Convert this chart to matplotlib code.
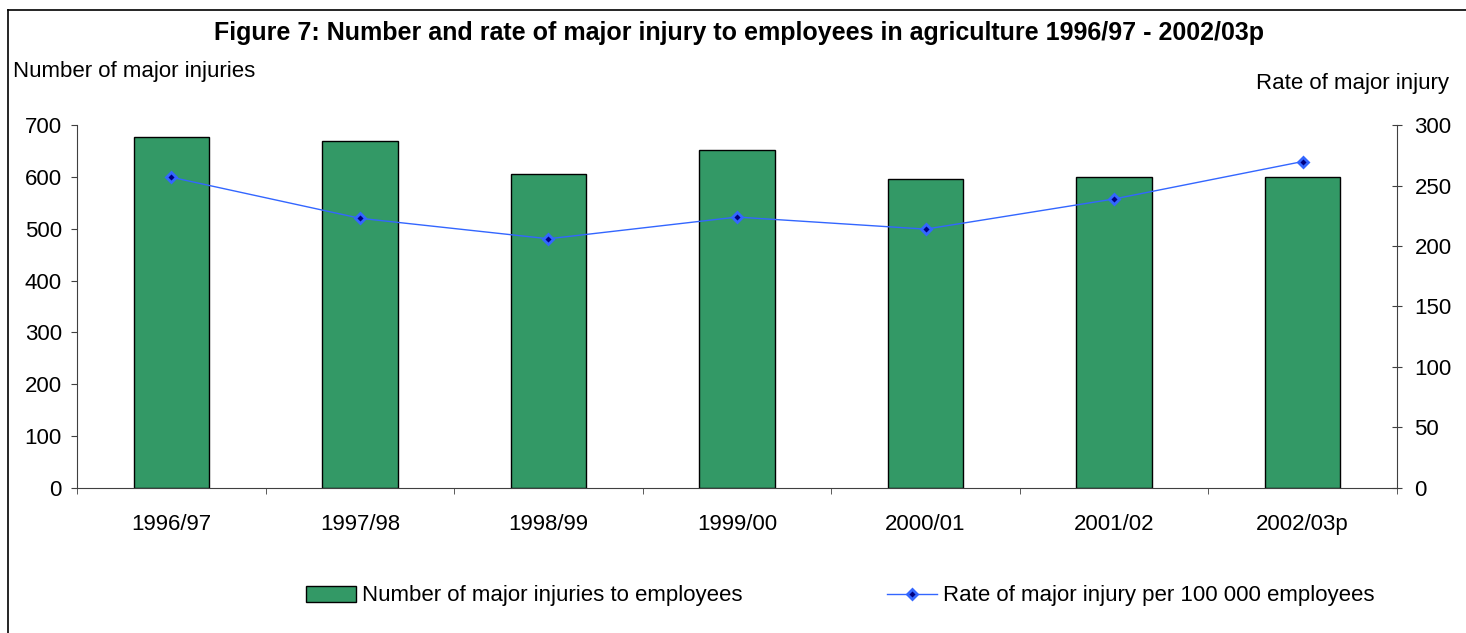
import matplotlib.pyplot as plt
from matplotlib.lines import Line2D
from matplotlib.patches import Patch

plt.rcParams["font.family"] = ["Liberation Sans", "DejaVu Sans"]

years = ["1996/97", "1997/98", "1998/99", "1999/00", "2000/01", "2001/02", "2002/03p"]
injuries = [678, 670, 605, 652, 596, 601, 601]
rates = [257, 223, 206, 224, 214, 239, 270]

W, H = 1466, 633
fig = plt.figure(figsize=(W / 100, H / 100), dpi=100)

# plot area in pixels
left, right, top, bottom = 77, 1397, 125.3, 487.5
ax = fig.add_axes([left / W, 1 - bottom / H, (right - left) / W, (bottom - top) / H])
ax2 = ax.twinx()

x = range(len(years))
ax.bar(x, injuries, width=0.4, color="#339966", edgecolor="black", linewidth=1, zorder=2)
ax.set_xlim(-0.5, len(years) - 0.5)
ax.set_ylim(0, 700)
ax.set_yticks(range(0, 701, 100))
ax.set_xticks(x)
ax.set_xticklabels(years, fontsize=16)
ax.set_xticks([i + 0.5 for i in range(-1, len(years))], minor=True)
ax.tick_params(axis="x", which="major", length=0, pad=19)
ax.tick_params(axis="x", which="minor", length=4.3, direction="out", color="#404040")
ax.tick_params(axis="y", length=4.3, direction="out", labelsize=16, color="#404040", pad=6.5)

ax2.plot(x, rates, color="#3366FF", linewidth=1, marker="D", markersize=5.5,
         markerfacecolor="#000080", markeredgecolor="#3366FF", markeredgewidth=2, zorder=3)
ax2.set_ylim(0, 300)
ax2.set_yticks(range(0, 301, 50))
ax2.tick_params(axis="y", length=7.2, direction="inout", labelsize=16, color="#404040", pad=9)

for a in (ax, ax2):
    a.spines["top"].set_visible(False)
    for s in ("left", "right", "bottom"):
        a.spines[s].set_color("#404040")
ax.spines["right"].set_visible(False)
ax2.spines["left"].set_visible(False)
ax2.spines["bottom"].set_visible(False)

fig.text(739 / W, 1 - 33 / H, "Figure 7: Number and rate of major injury to employees in agriculture 1996/97 - 2002/03p",
         ha="center", va="center", fontsize=18, fontweight="bold")
fig.text(13 / W, 1 - 72 / H, "Number of major injuries", ha="left", va="center", fontsize=16)
fig.text(1449 / W, 1 - 84 / H, "Rate of major injury", ha="right", va="center", fontsize=16)

# outer frame (left and top edges visible)
fig.add_artist(Line2D([8 / W, 8 / W], [0, 1 - 10 / H], transform=fig.transFigure, color="black", linewidth=1.2))
fig.add_artist(Line2D([8 / W, 1], [1 - 10 / H, 1 - 10 / H], transform=fig.transFigure, color="black", linewidth=1.2))

handles = [
    Patch(facecolor="#339966", edgecolor="black", linewidth=1),
    Line2D([], [], color="#3366FF", linewidth=1, marker="D", markersize=5.5,
           markerfacecolor="#000080", markeredgecolor="#3366FF", markeredgewidth=2),
]
labels = ["Number of major injuries to employees", "Rate of major injury per 100 000 employees"]
fig.legend(handles, labels, loc="center", bbox_to_anchor=(840 / W, 1 - 596 / H), ncol=2,
           frameon=False, fontsize=16, handlelength=2.25, handletextpad=0.27, columnspacing=6.5)

fig.savefig("out.png", dpi=100)
